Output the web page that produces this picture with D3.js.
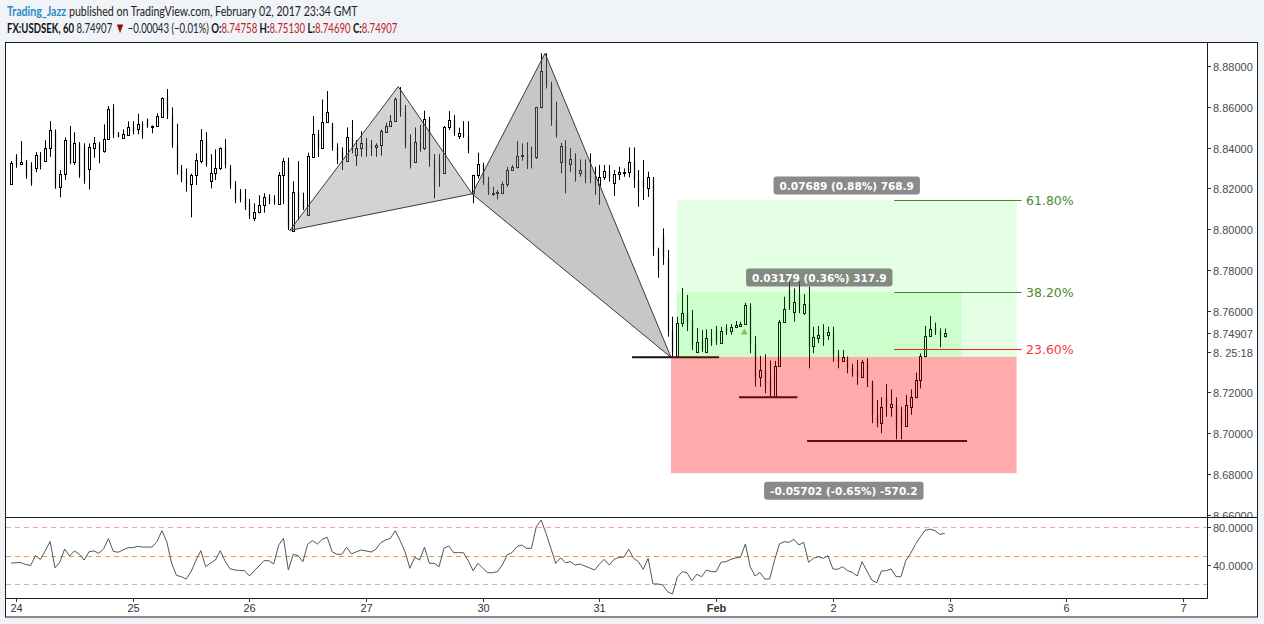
<!DOCTYPE html>
<html><head><meta charset="utf-8">
<script src="https://cdn.jsdelivr.net/npm/d3@7"></script>
<style>
html,body{margin:0;padding:0;background:#f0f3f7;}
svg{display:block;}
</style></head><body>
<svg id="c" width="1264" height="624"></svg>
<script>
// ---------------- DATA ----------------
const dayTickLabels = ["24","25","26","27","30","31","Feb","2","3","6","7"];
const dayTickBars   = [1,25,49,73,97,121,145,169,193,217,241];
const priceTicks    = [8.66,8.68,8.70,8.72,8.76,8.78,8.80,8.82,8.84,8.86,8.88];
const lastPrice     = 8.74907;
const countdownText = "8. 25:18";
const countdownPrice = 8.74;
const rsiTicks  = [80,40];
const rsiLevels = [80,50,20];

const openP = [8.8220,8.8359,8.8318,8.8329,8.8315,8.8298,8.8364,8.8333,8.8396,8.8481,
8.8208,8.8269,8.8437,8.8331,8.8417,8.8403,8.8296,8.8399,8.8417,8.8385,
8.8440,8.8589,8.8471,8.8448,8.8462,8.8501,8.8489,8.8515,8.8535,8.8504,
8.8504,8.8551,8.8648,8.8555,8.8413,8.8290,8.8241,8.8220,8.8264,8.8336,
8.8437,8.8236,8.8274,8.8300,8.8398,8.8305,8.8217,8.8182,8.8153,8.8128,
8.8056,8.8083,8.8117,8.8158,8.8148,8.8123,8.8264,8.8329,8.7993,8.8182,
8.8143,8.8068,8.8355,8.8466,8.8399,8.8524,8.8515,8.8403,8.8378,8.8336,
8.8452,8.8364,8.8396,8.8422,8.8413,8.8401,8.8411,8.8478,8.8506,8.8530,
8.8638,8.8574,8.8413,8.8328,8.8427,8.8396,8.8540,8.8339,8.8339,8.8274,
8.8499,8.8534,8.8458,8.8471,8.8457,8.8176,8.8266,8.8315,8.8226,8.8171,
8.8176,8.8179,8.8221,8.8290,8.8303,8.8359,8.8364,8.8364,8.8352,8.8600,
8.8775,8.8707,8.8535,8.8329,8.8408,8.8318,8.8344,8.8274,8.8290,8.8290,
8.8261,8.8217,8.8257,8.8285,8.8228,8.8269,8.8278,8.8279,8.8329,8.8241,
8.8241,8.8200,8.8251,8.7898,8.7972,8.7859,8.7506,8.7374,8.7539,8.7589,
8.7555,8.7397,8.7457,8.7400,8.7467,8.7506,8.7442,8.7516,8.7503,8.7519,
8.7527,8.7534,8.7624,8.7433,8.7277,8.7310,8.7271,8.7176,8.7330,8.7547,
8.7702,8.7596,8.7678,8.7588,8.7633,8.7428,8.7465,8.7482,8.7482,8.7496,
8.7384,8.7356,8.7369,8.7320,8.7310,8.7277,8.7350,8.7251,8.7090,8.7049,
8.7173,8.7127,8.7139,8.7090,8.7036,8.7130,8.7176,8.7261,8.7379,8.7478,
8.7516,8.7496,8.74758];

const highP = [8.8334,8.8368,8.8432,8.8339,8.8328,8.8378,8.8378,8.8436,8.8530,8.8489,
8.8290,8.8450,8.8506,8.8475,8.8427,8.8421,8.8421,8.8452,8.8427,8.8514,
8.8604,8.8613,8.8476,8.8489,8.8529,8.8529,8.8566,8.8529,8.8543,8.8509,
8.8568,8.8646,8.8687,8.8597,8.8517,8.8315,8.8298,8.8272,8.8372,8.8491,
8.8476,8.8368,8.8391,8.8401,8.8442,8.8315,8.8236,8.8197,8.8197,8.8148,
8.8127,8.8166,8.8176,8.8171,8.8166,8.8280,8.8349,8.8351,8.8235,8.8334,
8.8179,8.8375,8.8555,8.8487,8.8636,8.8677,8.8522,8.8421,8.8401,8.8499,
8.8535,8.8437,8.8481,8.8447,8.8437,8.8421,8.8489,8.8522,8.8560,8.8646,
8.8697,8.8609,8.8465,8.8499,8.8511,8.8581,8.8551,8.8368,8.8368,8.8506,
8.8579,8.8560,8.8497,8.8530,8.8530,8.8266,8.8375,8.8326,8.8257,8.8208,
8.8192,8.8233,8.8306,8.8315,8.8432,8.8421,8.8426,8.8404,8.8600,8.8862,
8.8862,8.8723,8.8625,8.8424,8.8437,8.8398,8.8372,8.8342,8.8342,8.8372,
8.8306,8.8315,8.8315,8.8315,8.8290,8.8306,8.8298,8.8401,8.8401,8.8290,
8.8339,8.8282,8.8256,8.7909,8.8004,8.7898,8.7571,8.7571,8.7712,8.7678,
8.7604,8.7516,8.7506,8.7509,8.7511,8.7526,8.7521,8.7534,8.7535,8.7550,
8.7547,8.7640,8.7637,8.7477,8.7379,8.7387,8.7356,8.7354,8.7555,8.7669,
8.7784,8.7710,8.7743,8.7681,8.7718,8.7522,8.7526,8.7534,8.7522,8.7522,
8.7408,8.7408,8.7376,8.7340,8.7359,8.7359,8.7367,8.7258,8.7163,8.7176,
8.7241,8.7215,8.7176,8.7130,8.7188,8.7215,8.7297,8.7392,8.7526,8.7575,
8.7542,8.7514,8.75130];

const lowP = [8.8217,8.8301,8.8317,8.8247,8.8213,8.8279,8.8293,8.8332,8.8355,8.8198,
8.8156,8.8241,8.8318,8.8315,8.8252,8.8223,8.8195,8.8350,8.8323,8.8375,
8.8439,8.8447,8.8450,8.8445,8.8457,8.8465,8.8465,8.8443,8.8497,8.8470,
8.8503,8.8550,8.8540,8.8399,8.8267,8.8230,8.8184,8.8058,8.8217,8.8323,
8.8306,8.8200,8.8241,8.8290,8.8298,8.8198,8.8127,8.8132,8.8094,8.8050,
8.8040,8.8078,8.8081,8.8123,8.8120,8.8119,8.8123,8.7996,8.7989,8.8045,
8.8094,8.8067,8.8352,8.8354,8.8398,8.8523,8.8385,8.8319,8.8290,8.8334,
8.8372,8.8310,8.8355,8.8355,8.8359,8.8355,8.8360,8.8475,8.8504,8.8529,
8.8551,8.8396,8.8298,8.8327,8.8380,8.8388,8.8306,8.8151,8.8208,8.8273,
8.8486,8.8458,8.8442,8.8448,8.8372,8.8127,8.8249,8.8217,8.8168,8.8163,
8.8146,8.8172,8.8208,8.8287,8.8298,8.8336,8.8295,8.8298,8.8344,8.8592,
8.8690,8.8507,8.8450,8.8274,8.8176,8.8280,8.8233,8.8257,8.8225,8.8225,
8.8168,8.8119,8.8241,8.8233,8.8163,8.8241,8.8257,8.8254,8.8202,8.8110,
8.8143,8.8158,8.7869,8.7762,8.7825,8.7473,8.7371,8.7371,8.7521,8.7501,
8.7408,8.7396,8.7398,8.7398,8.7428,8.7433,8.7437,8.7482,8.7482,8.7516,
8.7526,8.7531,8.7392,8.7228,8.7228,8.7196,8.7176,8.7175,8.7326,8.7542,
8.7604,8.7547,8.7588,8.7580,8.7318,8.7392,8.7441,8.7428,8.7457,8.7351,
8.7318,8.7351,8.7294,8.7277,8.7237,8.7274,8.7226,8.7049,8.7029,8.7000,
8.7081,8.7081,8.6970,8.6970,8.7032,8.7090,8.7171,8.7220,8.7372,8.7473,
8.7482,8.7421,8.74690];

const closeP = [8.8323,8.8315,8.8329,8.8261,8.8226,8.8362,8.8305,8.8396,8.8485,8.8212,
8.8269,8.8436,8.8329,8.8421,8.8266,8.8241,8.8401,8.8421,8.8385,8.8440,
8.8587,8.8466,8.8454,8.8465,8.8499,8.8481,8.8515,8.8462,8.8506,8.8507,
8.8555,8.8643,8.8555,8.8413,8.8290,8.8241,8.8220,8.8264,8.8339,8.8437,
8.8315,8.8274,8.8300,8.8396,8.8315,8.8217,8.8143,8.8143,8.8109,8.8065,
8.8083,8.8120,8.8156,8.8133,8.8128,8.8264,8.8334,8.8006,8.8180,8.8094,
8.8104,8.8359,8.8465,8.8398,8.8525,8.8574,8.8398,8.8339,8.8334,8.8450,
8.8388,8.8396,8.8421,8.8388,8.8398,8.8411,8.8483,8.8506,8.8530,8.8636,
8.8574,8.8413,8.8328,8.8426,8.8396,8.8541,8.8339,8.8212,8.8274,8.8499,
8.8534,8.8470,8.8470,8.8457,8.8388,8.8266,8.8318,8.8226,8.8172,8.8179,
8.8184,8.8221,8.8290,8.8306,8.8359,8.8364,8.8315,8.8352,8.8598,8.8775,
8.8707,8.8535,8.8457,8.8408,8.8319,8.8342,8.8275,8.8290,8.8251,8.8251,
8.8217,8.8257,8.8285,8.8251,8.8269,8.8282,8.8279,8.8328,8.8241,8.8182,
8.8202,8.8254,8.7898,8.7800,8.7859,8.7506,8.7398,8.7540,8.7589,8.7531,
8.7433,8.7446,8.7408,8.7465,8.7442,8.7447,8.7503,8.7496,8.7519,8.7528,
8.7535,8.7629,8.7433,8.7281,8.7310,8.7237,8.7188,8.7330,8.7547,8.7607,
8.7614,8.7645,8.7604,8.7633,8.7428,8.7470,8.7482,8.7457,8.7495,8.7384,
8.7350,8.7372,8.7320,8.7290,8.7276,8.7351,8.7251,8.7090,8.7050,8.7127,
8.7129,8.7142,8.7016,8.7036,8.7139,8.7176,8.7261,8.7379,8.7478,8.7509,
8.7491,8.7470,8.74907];

const rsiValues = [42,42.5,42.5,40.5,39.5,50,46,55,65,37,
43,57,49.5,55,51.4,45.3,54,55,52.4,57,
68,54.5,53.5,56,58.4,58.4,59.8,59,59,59.1,
65,76.4,64.7,41.8,29,27.6,25.1,32.9,45,55.2,
38.2,42,45.3,55.2,44,36,34.7,34.2,34,28.3,
34,39,44.6,44.6,41.1,61,68.3,34.7,51.4,49.9,
43.5,62.3,65.8,62.3,67.3,69.4,54.1,51.4,51.4,58.8,
51.7,54.1,55.9,54.9,53.8,56.7,63.7,66.5,68.3,76.4,
65.8,54.1,36.5,48.2,45.3,58.8,41.8,41.8,38.2,57.7,
60.2,53.1,53.1,53.1,44.6,34,41.8,36.5,31.8,31.8,
32.9,40,50.6,53.1,59.4,61.2,57.7,57.7,80.6,87.7,
73.6,57.7,41.8,47.7,42.4,43.5,40,41.1,38.9,36.8,
34.7,41.1,46,40,46,48.2,48.2,56.7,47.1,43.5,
35.4,47.1,19.9,19.9,18.8,11.7,9.2,27,32.9,31.8,
23.3,30.1,27.6,34.7,32.9,32.9,42.9,43.5,46,47.5,
48.2,62.3,38.2,28.3,32.2,25.1,25.1,45,62.3,64.7,
64.1,67.3,61.2,64.1,42.9,47.1,48.8,47,49.9,35.8,
35.4,38.2,34,32.2,28.3,43.5,33.6,24.1,21.2,33.6,
34,35.8,27.6,27.6,44.6,52.4,62,70,77,78,
76.5,72.5,73.5];

// harmonic pattern X, A, B, C, D (bar index, price)
const patternBars   = [57.3, 79.6, 94.8, 109.8, 135.7];
const patternPrices = [8.7994, 8.8699, 8.8173, 8.8862, 8.7372];

// horizontal support lines
const supportPrices = [8.7372, 8.7176, 8.6962];
const supportStart  = [127.7, 149.7, 163.7];
const supportEnd    = [145.6, 161.7, 196.6];

// position zones (profit/loss areas)
const zoneStart  = [136.9, 136.9, 135.7];
const zoneEnd    = [206.8, 195.5, 206.8];
const zoneTop    = [8.81430, 8.76920, 8.73741];
const zoneBottom = [8.73741, 8.73741, 8.68039];
const zoneLabels = ["0.07689 (0.88%) 768.9", "0.03179 (0.36%) 317.9", "-0.05702 (-0.65%) -570.2"];

// fibonacci retracement
const fibLow = 8.6962, fibHigh = 8.8873;
const fibLevels = [0.236, 0.382, 0.618];
const fibLabels = ["23.60%", "38.20%", "61.80%"];
const fibStart = 181.6, fibEnd = 207.8;

// marker
const markerBar = 150.8, markerPrice = 8.7498;

// ---------------- DRAW ----------------
const svg = d3.select("#c");
svg.append("rect").attr("width",1264).attr("height",624).attr("fill","#f0f3f7");
svg.append("rect").attr("x",5.5).attr("y",42.5).attr("width",1252).attr("height",574.5)
  .attr("fill","#fff").attr("stroke","#1a1a1a").attr("stroke-width",1);

const x  = d3.scaleLinear().domain([0,192]).range([11.2,944.7]);
const y  = d3.scaleLinear().domain([8.66,8.88]).range([514.8,66]);
const yr = d3.scaleLinear().domain([40,80]).range([565,527.3]);

const defs = svg.append("defs");
defs.append("clipPath").attr("id","cp").append("rect").attr("x",6).attr("y",43).attr("width",1201).attr("height",474);
defs.append("clipPath").attr("id","cr").append("rect").attr("x",6).attr("y",518).attr("width",1201).attr("height",80);
defs.append("clipPath").attr("id","ca").append("rect").attr("x",1208).attr("y",43).attr("width",50).attr("height",474);

const gP = svg.append("g").attr("clip-path","url(#cp)");

// candles
const idx = d3.range(openP.length);
gP.append("g").selectAll("line").data(idx).join("line")
  .attr("x1",i=>Math.round(x(i))+0.5).attr("x2",i=>Math.round(x(i))+0.5)
  .attr("y1",i=>y(highP[i])).attr("y2",i=>y(lowP[i]))
  .attr("stroke","#000").attr("stroke-width",1);
gP.append("g").selectAll("rect").data(idx.filter(i=>closeP[i]>=openP[i])).join("rect")
  .attr("x",i=>Math.round(x(i))-0.5)
  .attr("y",i=>Math.round(y(closeP[i]))+0.5)
  .attr("width",2)
  .attr("height",i=>Math.max(1,Math.round(y(openP[i]))-Math.round(y(closeP[i]))))
  .attr("fill","#fff").attr("stroke","#000").attr("stroke-width",1);
gP.append("g").selectAll("rect").data(idx.filter(i=>closeP[i]<openP[i])).join("rect")
  .attr("x",i=>Math.round(x(i))-0.1)
  .attr("y",i=>y(openP[i]))
  .attr("width",1.2)
  .attr("height",i=>Math.max(1,y(closeP[i])-y(openP[i])))
  .attr("fill","#000");

// harmonic pattern
const P = patternBars.map((b,i)=>[x(b), y(patternPrices[i])]);
gP.append("path").attr("d","M"+[P[0],P[1],P[2]].join("L")+"Z").attr("fill","rgba(128,128,128,0.35)");
gP.append("path").attr("d","M"+[P[2],P[3],P[4]].join("L")+"Z").attr("fill","rgba(128,128,128,0.44)");
const segs = [[0,1],[1,2],[2,3],[3,4],[0,2],[2,4]];
gP.append("g").selectAll("line").data(segs).join("line")
  .attr("x1",d=>P[d[0]][0]).attr("y1",d=>P[d[0]][1]).attr("x2",d=>P[d[1]][0]).attr("y2",d=>P[d[1]][1])
  .attr("stroke","#3a3a3a").attr("stroke-width",1);

// support lines
gP.append("g").selectAll("line").data(supportPrices).join("line")
  .attr("x1",(d,i)=>x(supportStart[i])).attr("x2",(d,i)=>x(supportEnd[i]))
  .attr("y1",d=>y(d)).attr("y2",d=>y(d))
  .attr("stroke","#111").attr("stroke-width",2);

// zones
const zoneFill = ["rgba(0,255,0,0.1)","rgba(0,255,0,0.1)","rgba(255,0,0,0.33)"];
gP.append("g").selectAll("rect").data(zoneTop).join("rect")
  .attr("x",(d,i)=>x(zoneStart[i])).attr("width",(d,i)=>x(zoneEnd[i])-x(zoneStart[i]))
  .attr("y",d=>y(d)).attr("height",(d,i)=>y(zoneBottom[i])-y(d))
  .attr("fill",(d,i)=>zoneFill[i]);

// marker
const mx = x(markerBar), my = y(markerPrice);
gP.append("path").attr("d",`M${mx-3.5},${my+3}L${mx+3.5},${my+3}L${mx},${my-3}Z`).attr("fill","#74c966");

// fib lines
const fibColor = ["#f21d1d","#3f8a2a","#3f8a2a"];
const fibText = ["#f23b3b","#4b8b2e","#4b8b2e"];
fibLevels.forEach((lv,i)=>{
  const py = Math.round(y(fibLow + lv*(fibHigh-fibLow)))+0.5;
  gP.append("line").attr("x1",x(fibStart)).attr("x2",x(fibEnd)).attr("y1",py).attr("y2",py)
    .attr("stroke",fibColor[i]).attr("stroke-width",1);
  gP.append("text").attr("x",x(fibEnd)+4.5).attr("y",py+4.5).text(fibLabels[i])
    .attr("font-family","DejaVu Sans").attr("font-size",12.5).attr("fill",fibText[i]);
});

// zone labels
zoneLabels.forEach((t,i)=>{
  const cx = (x(zoneStart[i])+x(zoneEnd[i]))/2;
  const g = gP.append("g");
  const tx = g.append("text").attr("x",cx).attr("text-anchor","middle")
    .attr("font-family","DejaVu Sans").attr("font-weight","bold").attr("font-size",10.5)
    .attr("fill","#fff").text(t);
  const w = tx.node().getComputedTextLength()+12, h = 18;
  let by;
  if (i<2) by = y(zoneTop[i]) - 5.5 - h; else by = y(zoneBottom[i]) + 8.5;
  g.insert("rect","text").attr("x",cx-w/2).attr("y",by).attr("width",w).attr("height",h)
    .attr("rx",3).attr("fill","rgba(88,88,88,0.7)");
  tx.attr("y",by+13);
});

// ----- RSI pane -----
const gR = svg.append("g").attr("clip-path","url(#cr)");
const lvColor = ["#f2a7af","#e39a55","#acc9a6"];
gR.append("g").selectAll("line").data(rsiLevels).join("line")
  .attr("x1",6).attr("x2",1207).attr("y1",d=>Math.round(yr(d))+0.5).attr("y2",d=>Math.round(yr(d))+0.5)
  .attr("stroke",(d,i)=>lvColor[i]).attr("stroke-dasharray","5,4").attr("stroke-width",1);
gR.append("path").datum(rsiValues)
  .attr("d",d3.line().x((d,i)=>x(i)).y(d=>yr(d)))
  .attr("fill","none").attr("stroke","#555").attr("stroke-width",1);

// ----- frame lines -----
svg.append("line").attr("x1",5.5).attr("x2",1257.5).attr("y1",517.5).attr("y2",517.5).attr("stroke","#1a1a1a");
svg.append("line").attr("x1",5.5).attr("x2",1207.5).attr("y1",598.5).attr("y2",598.5).attr("stroke","#1a1a1a");
svg.append("line").attr("x1",1207.5).attr("x2",1207.5).attr("y1",42.5).attr("y2",598.5).attr("stroke","#1a1a1a");

// price axis
const axisFont = "Liberation Sans, Arial, sans-serif";
const gA = svg.append("g").attr("clip-path","url(#ca)");
const priceLabelSet = priceTicks.map(p=>({p, t:p.toFixed(5)}))
  .concat([{p:lastPrice, t:lastPrice.toFixed(5)}, {p:countdownPrice, t:countdownText}]);
priceLabelSet.forEach(d=>{
  const py = Math.round(y(d.p))+0.5;
  gA.append("line").attr("x1",1208).attr("x2",1211).attr("y1",py).attr("y2",py).attr("stroke","#333");
  gA.append("text").attr("x",1213).attr("y",py+4).text(d.t)
    .attr("font-family",axisFont).attr("font-size",11).attr("fill","#4a4a4a");
});
rsiTicks.forEach(v=>{
  const py = Math.round(yr(v))+0.5;
  svg.append("line").attr("x1",1208).attr("x2",1211).attr("y1",py).attr("y2",py).attr("stroke","#333");
  svg.append("text").attr("x",1213).attr("y",py+4).text(v.toFixed(4))
    .attr("font-family",axisFont).attr("font-size",11).attr("fill","#4a4a4a");
});

// time axis
dayTickBars.forEach((b,i)=>{
  const px = Math.round(x(b))+0.5;
  svg.append("line").attr("x1",px).attr("x2",px).attr("y1",599).attr("y2",602).attr("stroke","#333");
  svg.append("text").attr("x",px).attr("y",612).attr("text-anchor","middle").text(dayTickLabels[i])
    .attr("font-family",axisFont).attr("font-size",11)
    .attr("font-weight",dayTickLabels[i]==="Feb"?"bold":"normal").attr("fill","#333");
});

// ----- header -----
function headerLine(parts, yb, target){
  const t = svg.append("text").attr("x",7).attr("y",yb)
    .attr("font-family","Lato, 'Open Sans', sans-serif").attr("font-size",13.5);
  parts.forEach(p=>{
    const s = t.append("tspan").text(p[0]).attr("fill",p[1]).attr("font-weight",p[2]?"bold":"normal");
    if (p[3]) s.attr("font-size",p[3]);
  });
  const w = t.node().getComputedTextLength();
  const s = target/w;
  t.attr("transform",`translate(7,0) scale(${s},1) translate(-7,0)`);
}
headerLine([["Trading_Jazz","#2a8bc6",true],[" published on TradingView.com, February 02, 2017 23:34 GMT","#222",false]],16,351);
headerLine([["FX:USDSEK, 60","#111",true],["  8.74907 ","#222",false],["\u25BC","#8b1010",false,15],[" \u22120.00043 (\u22120.01%)  ","#222",false],
  ["O:","#111",true],["8.74758","#c0221f",false],[" H:","#111",true],["8.75130","#c0221f",false],
  [" L:","#111",true],["8.74690","#c0221f",false],[" C:","#111",true],["8.74907","#c0221f",false]],33,391);
</script>
</body></html>
